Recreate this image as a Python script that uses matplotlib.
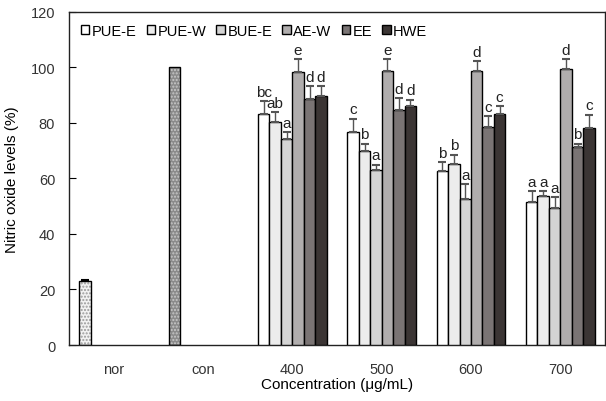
import numpy as np
import matplotlib
matplotlib.use("Agg")
import matplotlib.pyplot as plt
from matplotlib.patches import Patch

plt.rcParams['font.family'] = ['Liberation Sans', 'DejaVu Sans']

categories = ['nor', 'con', '400', '500', '600', '700']
series = ['PUE-E', 'PUE-W', 'BUE-E', 'AE-W', 'EE', 'HWE']
colors = ['#ffffff', '#ececec', '#d4d4d4', '#b0adad', '#7a7474', '#3b3534']

# values for the 4 concentration groups (400, 500, 600, 700)
pue_e = [83.2, 76.8, 62.6, 51.5]
pue_w = [80.2, 69.8, 65.4, 53.6]
bue_e = [74.3, 63.2, 52.5, 49.2]
ae_w = [98.2, 98.6, 98.8, 99.5]
ee = [88.6, 84.8, 78.6, 71.4]
hwe = [89.8, 86.3, 83.2, 78.2]
values = [pue_e, pue_w, bue_e, ae_w, ee, hwe]

pue_e_err = [4.8, 4.8, 3.4, 4.0]
pue_w_err = [3.6, 2.8, 3.2, 1.8]
bue_e_err = [2.3, 1.8, 5.4, 4.2]
ae_w_err = [4.8, 4.4, 3.4, 3.5]
ee_err = [4.6, 4.2, 3.8, 1.2]
hwe_err = [3.4, 2.1, 2.8, 4.8]
errors = [pue_e_err, pue_w_err, bue_e_err, ae_w_err, ee_err, hwe_err]

letters = [['bc', 'c', 'b', 'a'],
           ['ab', 'b', 'b', 'a'],
           ['a', 'a', 'a', 'a'],
           ['e', 'e', 'd', 'd'],
           ['d', 'd', 'c', 'b'],
           ['d', 'd', 'c', 'c']]

nor_val, nor_err = 23.0, 0.5
con_val = 100.0

fig = plt.figure(figsize=(6.06, 4.02), dpi=100)
ax = fig.add_axes([0.1139, 0.1393, 0.8845, 0.8284])

w = 0.128
x = np.arange(len(categories))

# nor / con bars with dotted fill
ax.bar(x[0] - 2.5 * w, nor_val, w, color='#f2f2f2', hatch='.....',
       edgecolor='#9a9a9a', linewidth=0, zorder=2)
ax.bar(x[0] - 2.5 * w, nor_val, w, fill=False, edgecolor='black',
       linewidth=1, zorder=3, yerr=[[0], [nor_err]], capsize=3,
       error_kw=dict(ecolor='black', elinewidth=1, capthick=1.5))
ax.bar(x[1] - 2.5 * w, con_val, w, color='#8a8a8a', hatch='.....',
       edgecolor='#c8c8c8', linewidth=0, zorder=2)
ax.bar(x[1] - 2.5 * w, con_val, w, fill=False, edgecolor='black',
       linewidth=1, zorder=3)

gx = x[2:]
for i, (name, col) in enumerate(zip(series, colors)):
    pos = gx + (i - 2.5) * w
    vals = np.array(values[i])
    errs = np.array(errors[i])
    ax.bar(pos, vals, w, color=col, edgecolor='black', linewidth=1, zorder=3,
           yerr=[np.zeros_like(errs), errs], capsize=3,
           error_kw=dict(ecolor='#555555', elinewidth=1, capthick=1.5, zorder=4))
    for p, v, e, t in zip(pos, vals, errors[i], letters[i]):
        ax.text(p, v + e + 0.8, t, ha='center', va='bottom', fontsize=11,
                color='#222222')

ax.set_xlim(-0.5, 5.5)
ax.set_ylim(0, 120)
ax.set_yticks(np.arange(0, 121, 20))
ax.set_xticks(x)
ax.set_xticklabels(categories)
ax.tick_params(axis='y', direction='in', length=5, labelsize=10.5, pad=10,
               labelcolor='#333333')
ax.tick_params(axis='x', length=0, labelsize=10.5, pad=12, labelcolor='#333333')
for s in ax.spines.values():
    s.set_linewidth(1)
    s.set_color('#222222')

ax.set_ylabel('Nitric oxide levels (%)', fontsize=11, labelpad=8)
ax.set_xlabel('Concentration (μg/mL)', fontsize=11, labelpad=1)

handles = [Patch(facecolor=c, edgecolor='black', linewidth=1) for c in colors]
ax.legend(handles, series, loc='upper left', ncol=6, frameon=False,
          fontsize=10.5, handlelength=0.6, handleheight=0.6, handletextpad=0.15,
          columnspacing=0.7, bbox_to_anchor=(0.0, 1.0), borderaxespad=0.4)

fig.savefig('out.png', dpi=100)
